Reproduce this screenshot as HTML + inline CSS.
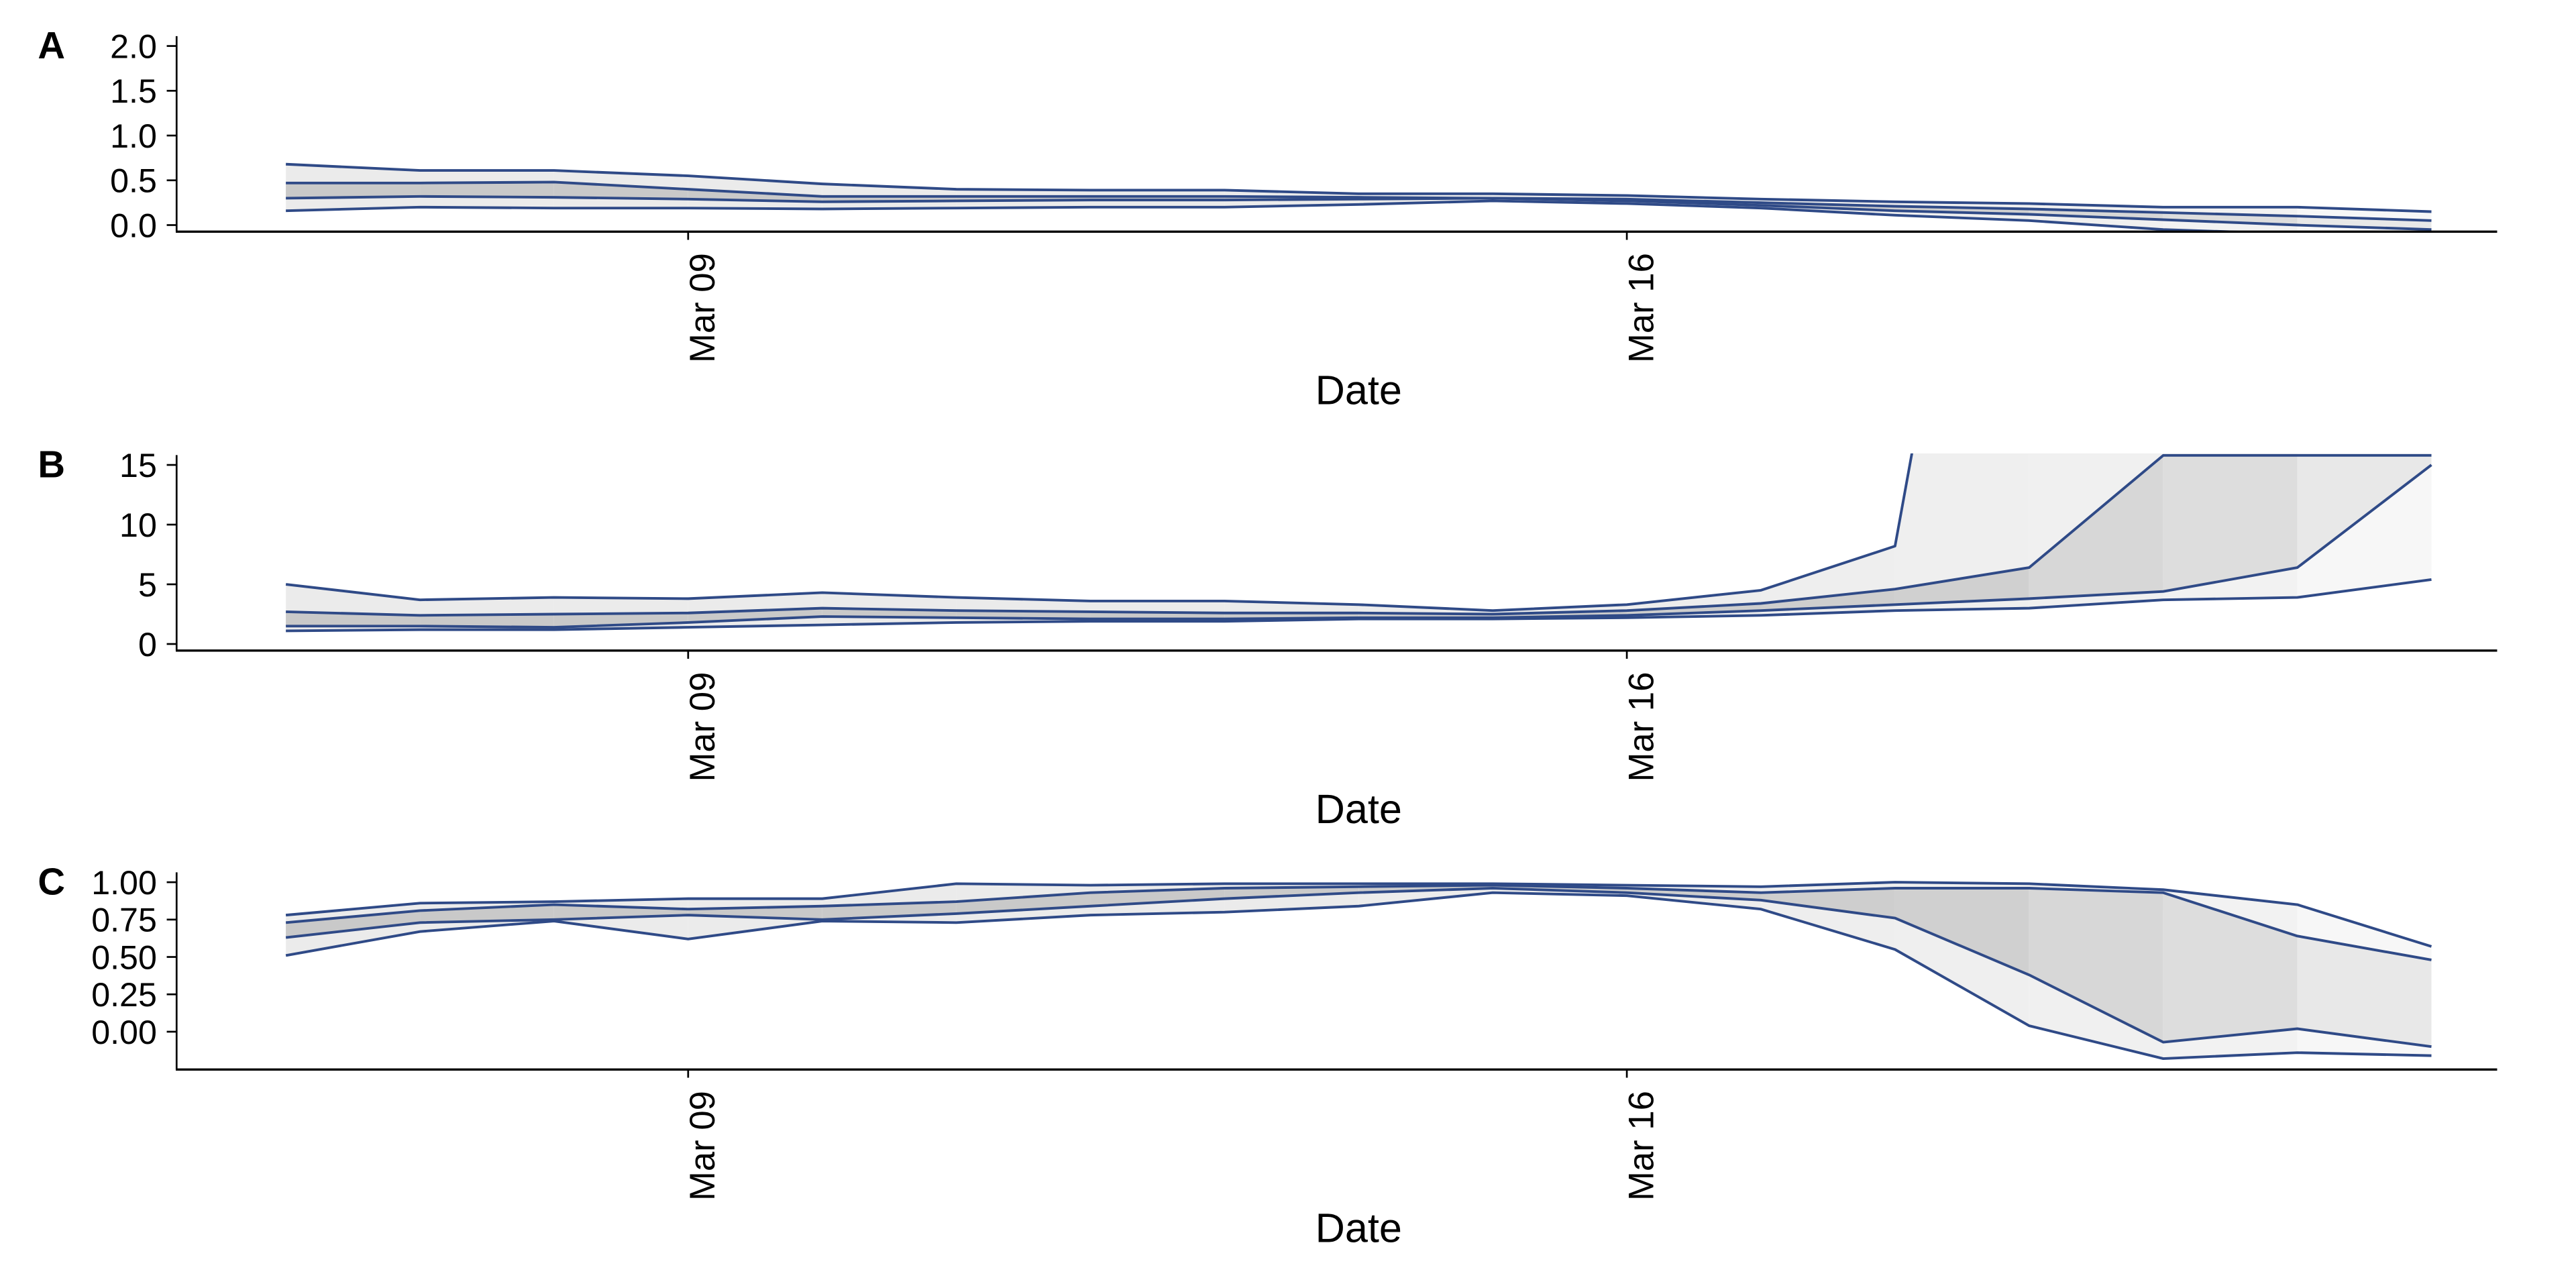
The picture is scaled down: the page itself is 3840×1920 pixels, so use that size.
<!DOCTYPE html>
<html><head><meta charset="utf-8"><style>
html,body{margin:0;padding:0;background:#fff}
svg{display:block}
text{font-family:"Liberation Sans",sans-serif;fill:#000}
</style></head><body>
<svg id="chart" width="3840" height="1920" viewBox="0 0 1568 784" xmlns="http://www.w3.org/2000/svg"></svg>
<script>
const dates = ["Mar 06","Mar 07","Mar 08","Mar 09","Mar 10","Mar 11","Mar 12","Mar 13","Mar 14","Mar 15","Mar 16","Mar 17","Mar 18","Mar 19","Mar 20","Mar 21","Mar 22"];
const xTickLabels = ["Mar 09","Mar 16"];
const xTickIndex = [3,10];

const aTicks = [0,0.5,1,1.5,2];
const aTickLabels = ["0.0","0.5","1.0","1.5","2.0"];
const aUpperOuter = [0.68,0.61,0.61,0.55,0.46,0.40,0.39,0.39,0.35,0.35,0.33,0.29,0.26,0.24,0.20,0.20,0.15];
const aUpperInner = [0.47,0.47,0.48,0.40,0.32,0.32,0.32,0.32,0.31,0.30,0.29,0.25,0.21,0.18,0.14,0.10,0.05];
const aLowerInner = [0.30,0.32,0.31,0.29,0.26,0.27,0.28,0.28,0.29,0.30,0.27,0.22,0.16,0.12,0.06,0.00,-0.05];
const aLowerOuter = [0.16,0.20,0.19,0.19,0.18,0.19,0.20,0.20,0.23,0.27,0.24,0.19,0.11,0.05,-0.05,-0.10,-0.15];

const bTicks = [0,5,10,15];
const bTickLabels = ["0","5","10","15"];
const bUpperOuter = [5.0,3.7,3.9,3.8,4.3,3.9,3.6,3.6,3.3,2.8,3.3,4.5,8.2,70,70,70,70];
const bUpperInner = [2.7,2.4,2.5,2.6,3.0,2.8,2.7,2.6,2.6,2.5,2.8,3.4,4.6,6.4,15.8,15.8,15.8];
const bLowerInner = [1.5,1.5,1.4,1.8,2.3,2.2,2.1,2.1,2.2,2.2,2.4,2.8,3.3,3.8,4.4,6.4,15.0];
const bLowerOuter = [1.1,1.2,1.2,1.4,1.6,1.8,1.9,1.9,2.1,2.1,2.2,2.4,2.8,3.0,3.7,3.9,5.4];

const cTicks = [0,0.25,0.5,0.75,1];
const cTickLabels = ["0.00","0.25","0.50","0.75","1.00"];
const cUpperOuter = [0.78,0.86,0.87,0.89,0.89,0.99,0.98,0.99,0.99,0.99,0.98,0.97,1.00,0.99,0.95,0.85,0.57];
const cUpperInner = [0.73,0.81,0.85,0.82,0.84,0.87,0.93,0.96,0.97,0.98,0.96,0.93,0.96,0.96,0.93,0.64,0.48];
const cLowerInner = [0.63,0.73,0.75,0.78,0.75,0.79,0.84,0.89,0.93,0.96,0.93,0.88,0.76,0.38,-0.07,0.02,-0.10];
const cLowerOuter = [0.51,0.67,0.74,0.62,0.74,0.73,0.78,0.80,0.84,0.93,0.91,0.82,0.55,0.04,-0.18,-0.14,-0.16];

const NS = "http://www.w3.org/2000/svg";
const svg = document.getElementById("chart");
function mk(tag, attrs, parent){
  const e = document.createElementNS(NS, tag);
  for (const k in attrs) e.setAttribute(k, attrs[k]);
  (parent||svg).appendChild(e);
  return e;
}
const defs = mk("defs", {});
const x0 = 174, xStep = 81.625;
function xScale(i){ return x0 + i*xStep; }
function innerShade(i){ return ["#c9c9c9","#c9c9c9","#c9c9c9","#c9c9c9","#c9c9c9","#c9c9c9","#c9c9c9","#cacaca","#cbcbcb","#cccccc","#cdcdcd","#cecece","#d0d0d0","#d7d7d7","#dddddd","#e8e8e8"][i]; }
function outerShade(i){ return ["#ebebeb","#ebebeb","#ebebeb","#ebebeb","#ebebeb","#ebebeb","#ebebeb","#ebebeb","#ececec","#ececec","#ededed","#eeeeee","#efefef","#f0f0f0","#f2f2f2","#f7f7f7"][i]; }

function panel(opt){
  const g = mk("g", {});
  
  
  const cp = mk("clipPath", {id:"clip"+opt.id}, defs);
  mk("rect", {x:107, y:opt.top-1, width:1413, height:opt.axisY-opt.top+1}, cp);
  const yS = v => opt.y0px + (v - opt.v0) * (opt.y1px - opt.y0px) / (opt.v1 - opt.v0);
  const plot = mk("g", {"clip-path":"url(#clip"+opt.id+")"}, g);
  
  
  const n = dates.length;
  for (let i=0;i<n-1;i++){
    const p = (a,b)=>[xScale(i)+","+yS(a[i]), xScale(i+1)+","+yS(a[i+1]), xScale(i+1)+","+yS(b[i+1]), xScale(i)+","+yS(b[i])].join(" ");
    const outer = mk("polygon", {points:p(opt.uo,opt.lo), fill:outerShade(i), stroke:"none"}, plot);
    
    
    const inner = mk("polygon", {points:p(opt.ui,opt.li), fill:innerShade(i), stroke:"none"}, plot);
    
    
  }
  const names = ["upper-outer-line","upper-inner-line","lower-inner-line","lower-outer-line"];
  [opt.uo,opt.ui,opt.li,opt.lo].forEach((arr,k)=>{
    const pts = arr.map((v,i)=>xScale(i)+","+yS(v)).join(" ");
    const pl = mk("polyline", {points:pts, fill:"none", stroke:"#2f4a87", "stroke-width":1.6, "stroke-linejoin":"round"}, plot);
    
    
  });
  const ya = mk("line", {x1:107.5, x2:107.5, y1:opt.top, y2:opt.axisY, stroke:"#000", "stroke-width":1.1}, g);
  
  
  const xa = mk("line", {x1:107, x2:1520, y1:opt.axisY, y2:opt.axisY, stroke:"#000", "stroke-width":1.4}, g);
  
  
  opt.ticks.forEach((t,i)=>{
    const y = yS(t);
    const tk = mk("line", {x1:101.5, x2:107.5, y1:y, y2:y, stroke:"#000", "stroke-width":1.1}, g);
    
    
    const tl = mk("text", {x:95.5, y:y+7.3, "text-anchor":"end", "font-size":20.5}, g);
    tl.textContent = opt.tickLabels[i];
    
    
  });
  xTickIndex.forEach((di,i)=>{
    const x = xScale(di);
    const tk = mk("line", {x1:x, x2:x, y1:opt.axisY, y2:opt.axisY+5, stroke:"#000", "stroke-width":1.1}, g);
    
    
    const tl = mk("text", {transform:"translate("+(x+16)+","+(opt.axisY+13)+") rotate(-90)", "text-anchor":"end", "font-size":21.5}, g);
    tl.textContent = xTickLabels[i];
    
    
  });
  const xt = mk("text", {x:827, y:opt.axisY+105, "text-anchor":"middle", "font-size":25}, g);
  xt.textContent = "Date";
  
  
  const pl = mk("text", {x:23, y:opt.top+13.5, "font-size":23, "font-weight":"bold"}, g);
  pl.textContent = opt.id;
  
  
}

panel({id:"A", v0:0, v1:2, y0px:137, y1px:28, top:22, axisY:141,
  ticks:aTicks, tickLabels:aTickLabels, uo:aUpperOuter, ui:aUpperInner, li:aLowerInner, lo:aLowerOuter});
panel({id:"B", v0:0, v1:15, y0px:392, y1px:283, top:277, axisY:396,
  ticks:bTicks, tickLabels:bTickLabels, uo:bUpperOuter, ui:bUpperInner, li:bLowerInner, lo:bLowerOuter});
panel({id:"C", v0:0, v1:1, y0px:628, y1px:537, top:531, axisY:651,
  ticks:cTicks, tickLabels:cTickLabels, uo:cUpperOuter, ui:cUpperInner, li:cLowerInner, lo:cLowerOuter});
</script>
</body></html>
